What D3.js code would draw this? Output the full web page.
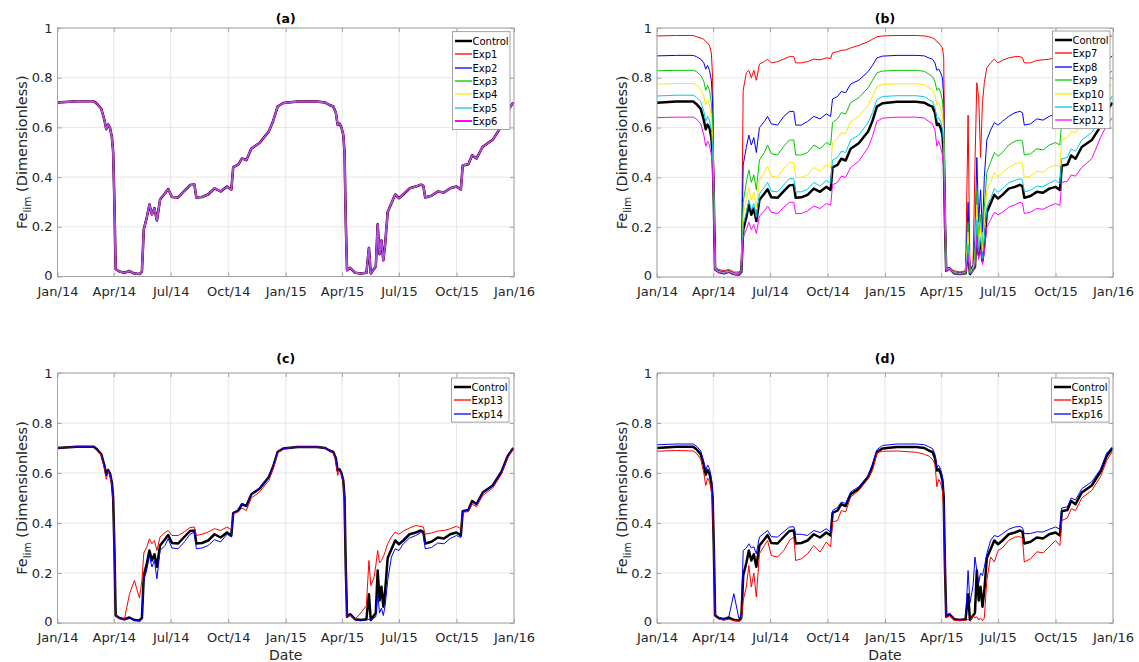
<!DOCTYPE html>
<html>
<head>
<meta charset="utf-8">
<script src="https://cdn.jsdelivr.net/npm/d3@7"></script>
<style>
  body { margin: 0; background: #fff; }
  text { font-family: "DejaVu Sans", sans-serif; }
</style>
</head>
<body>
<svg width="1139" height="662"></svg>
<script>
// sample dates, shared by every series
const dates = [
  "2014-01-01","2014-02-01","2014-02-28","2014-03-05","2014-03-12","2014-03-17","2014-03-20","2014-03-23","2014-03-26","2014-03-29",
  "2014-03-31","2014-04-02","2014-04-04","2014-04-10","2014-04-18","2014-04-26","2014-05-04","2014-05-12","2014-05-16","2014-05-19",
  "2014-05-24","2014-05-28","2014-06-01","2014-06-05","2014-06-09","2014-06-14","2014-06-22","2014-06-27","2014-07-03","2014-07-13",
  "2014-07-23","2014-08-01","2014-08-08","2014-08-11","2014-08-20","2014-08-30","2014-09-09","2014-09-19","2014-09-29","2014-10-06",
  "2014-10-09","2014-10-17","2014-10-23","2014-10-30","2014-11-07","2014-11-20","2014-12-05","2014-12-12","2014-12-19","2014-12-28",
  "2015-01-20","2015-02-20","2015-03-05","2015-03-12","2015-03-18","2015-03-22","2015-03-25","2015-03-28","2015-03-31","2015-04-03",
  "2015-04-05","2015-04-07","2015-04-09","2015-04-14","2015-04-22","2015-05-01","2015-05-10","2015-05-14","2015-05-17","2015-05-22",
  "2015-05-25","2015-05-28","2015-05-31","2015-06-03","2015-06-06","2015-06-09","2015-06-13","2015-06-19","2015-06-25","2015-07-01",
  "2015-07-08","2015-07-18","2015-07-28","2015-08-05","2015-08-09","2015-08-12","2015-08-22","2015-09-01","2015-09-11","2015-09-21",
  "2015-10-01","2015-10-08","2015-10-11","2015-10-20","2015-10-26","2015-11-02","2015-11-12","2015-11-28","2015-12-12","2015-12-22",
  "2015-12-31"
];

const control = [
  0.700,0.705,0.705,0.695,0.675,0.630,0.593,0.612,0.598,0.560,
  0.500,0.300,0.030,0.020,0.015,0.022,0.012,0.010,0.020,0.190,
  0.240,0.290,0.250,0.275,0.225,0.310,0.335,0.352,0.320,0.318,
  0.345,0.368,0.370,0.318,0.320,0.330,0.355,0.342,0.362,0.350,
  0.440,0.450,0.475,0.468,0.515,0.537,0.584,0.627,0.684,0.698,
  0.704,0.704,0.700,0.690,0.684,0.660,0.610,0.615,0.600,0.570,
  0.500,0.220,0.025,0.035,0.015,0.012,0.015,0.115,0.012,0.030,
  0.040,0.210,0.090,0.145,0.065,0.130,0.260,0.295,0.330,0.315,
  0.330,0.355,0.362,0.370,0.365,0.318,0.325,0.342,0.338,0.355,
  0.362,0.350,0.447,0.452,0.488,0.475,0.522,0.550,0.605,0.668,
  0.700
];

// panel (a): Exp1-Exp6 lie on top of the control curve in the picture
const exp1 = control, exp2 = control, exp3 = control, exp4 = control, exp5 = control, exp6 = control;

const exp7 = [
  0.968,0.970,0.970,0.965,0.960,0.955,0.945,0.940,0.930,0.900,
  0.800,0.400,0.040,0.030,0.025,0.030,0.020,0.020,0.030,0.750,
  0.820,0.830,0.800,0.830,0.790,0.855,0.865,0.875,0.860,0.865,
  0.875,0.885,0.885,0.860,0.860,0.865,0.875,0.872,0.880,0.878,
  0.900,0.905,0.910,0.912,0.920,0.930,0.945,0.955,0.965,0.968,
  0.970,0.970,0.968,0.965,0.960,0.955,0.945,0.940,0.930,0.920,
  0.880,0.360,0.040,0.035,0.025,0.020,0.025,0.650,0.030,0.050,
  0.450,0.780,0.720,0.480,0.700,0.780,0.840,0.860,0.875,0.860,
  0.870,0.880,0.885,0.885,0.880,0.860,0.860,0.870,0.872,0.875,
  0.880,0.875,0.905,0.910,0.920,0.920,0.930,0.940,0.955,0.965,
  0.968
];
const exp8 = [
  0.888,0.890,0.890,0.885,0.875,0.860,0.835,0.850,0.830,0.790,
  0.700,0.350,0.035,0.025,0.020,0.025,0.015,0.015,0.030,0.450,
  0.520,0.570,0.530,0.560,0.500,0.600,0.625,0.645,0.615,0.610,
  0.645,0.665,0.665,0.610,0.610,0.625,0.645,0.635,0.655,0.645,
  0.715,0.725,0.745,0.740,0.775,0.790,0.825,0.850,0.880,0.887,
  0.890,0.890,0.888,0.880,0.875,0.860,0.830,0.835,0.820,0.800,
  0.720,0.300,0.030,0.035,0.020,0.015,0.020,0.300,0.020,0.050,
  0.150,0.480,0.220,0.350,0.180,0.400,0.550,0.590,0.620,0.610,
  0.625,0.645,0.660,0.665,0.660,0.610,0.615,0.635,0.630,0.645,
  0.655,0.645,0.720,0.725,0.750,0.745,0.780,0.800,0.840,0.870,
  0.888
];
const exp9 = [
  0.828,0.830,0.830,0.825,0.810,0.785,0.750,0.770,0.750,0.700,
  0.620,0.320,0.033,0.022,0.018,0.024,0.014,0.012,0.025,0.300,
  0.380,0.430,0.380,0.410,0.350,0.470,0.500,0.530,0.495,0.490,
  0.525,0.550,0.550,0.490,0.490,0.500,0.530,0.515,0.540,0.530,
  0.620,0.635,0.660,0.655,0.700,0.720,0.760,0.790,0.820,0.827,
  0.830,0.830,0.826,0.815,0.805,0.785,0.750,0.760,0.740,0.710,
  0.640,0.270,0.030,0.033,0.018,0.014,0.018,0.220,0.020,0.040,
  0.100,0.350,0.150,0.250,0.120,0.280,0.420,0.460,0.500,0.485,
  0.500,0.530,0.545,0.550,0.545,0.490,0.495,0.515,0.510,0.530,
  0.540,0.530,0.630,0.640,0.665,0.660,0.700,0.730,0.770,0.810,
  0.828
];
const exp10 = [
  0.775,0.777,0.777,0.772,0.755,0.725,0.690,0.710,0.690,0.640,
  0.560,0.300,0.032,0.021,0.017,0.023,0.013,0.011,0.022,0.250,
  0.310,0.360,0.310,0.340,0.280,0.390,0.420,0.445,0.405,0.400,
  0.435,0.460,0.460,0.400,0.400,0.410,0.440,0.425,0.450,0.440,
  0.540,0.555,0.580,0.575,0.625,0.645,0.690,0.725,0.765,0.773,
  0.776,0.776,0.772,0.760,0.752,0.730,0.690,0.700,0.680,0.650,
  0.580,0.250,0.030,0.034,0.017,0.013,0.017,0.180,0.018,0.035,
  0.070,0.290,0.120,0.200,0.100,0.220,0.350,0.380,0.420,0.400,
  0.420,0.440,0.455,0.460,0.455,0.400,0.405,0.425,0.420,0.440,
  0.450,0.440,0.550,0.560,0.585,0.580,0.625,0.660,0.710,0.750,
  0.775
];
const exp11 = [
  0.727,0.730,0.730,0.722,0.705,0.665,0.625,0.645,0.630,0.590,
  0.520,0.300,0.031,0.021,0.016,0.022,0.012,0.011,0.021,0.210,
  0.260,0.310,0.270,0.295,0.240,0.335,0.360,0.380,0.345,0.342,
  0.370,0.395,0.395,0.342,0.342,0.352,0.380,0.365,0.388,0.375,
  0.470,0.480,0.505,0.500,0.550,0.570,0.620,0.660,0.712,0.725,
  0.728,0.728,0.724,0.712,0.705,0.680,0.635,0.640,0.625,0.595,
  0.530,0.230,0.027,0.034,0.016,0.012,0.016,0.130,0.015,0.032,
  0.050,0.230,0.100,0.160,0.075,0.150,0.280,0.315,0.355,0.340,
  0.355,0.378,0.388,0.395,0.390,0.342,0.348,0.365,0.362,0.378,
  0.388,0.375,0.475,0.480,0.515,0.505,0.550,0.580,0.635,0.690,
  0.727
];
const exp12 = [
  0.640,0.642,0.642,0.635,0.615,0.570,0.525,0.545,0.530,0.490,
  0.420,0.250,0.028,0.018,0.014,0.020,0.011,0.010,0.018,0.160,
  0.190,0.220,0.190,0.210,0.175,0.245,0.265,0.285,0.260,0.255,
  0.280,0.300,0.300,0.255,0.255,0.265,0.285,0.275,0.295,0.288,
  0.370,0.380,0.405,0.400,0.440,0.465,0.520,0.565,0.625,0.638,
  0.642,0.642,0.638,0.625,0.615,0.590,0.525,0.545,0.520,0.490,
  0.430,0.190,0.022,0.030,0.014,0.011,0.014,0.090,0.012,0.025,
  0.035,0.160,0.070,0.110,0.050,0.100,0.200,0.230,0.260,0.250,
  0.260,0.280,0.290,0.300,0.295,0.255,0.260,0.275,0.272,0.285,
  0.295,0.288,0.380,0.385,0.410,0.405,0.440,0.475,0.560,0.610,
  0.640
];
const exp13 = [
  0.700,0.705,0.705,0.692,0.670,0.620,0.575,0.605,0.590,0.550,
  0.490,0.290,0.030,0.020,0.015,0.115,0.170,0.100,0.170,0.280,
  0.305,0.337,0.317,0.330,0.290,0.344,0.362,0.370,0.350,0.350,
  0.365,0.382,0.384,0.350,0.355,0.364,0.377,0.370,0.384,0.373,
  0.437,0.444,0.460,0.450,0.500,0.524,0.570,0.617,0.680,0.698,
  0.704,0.704,0.700,0.690,0.680,0.650,0.590,0.610,0.595,0.565,
  0.490,0.210,0.025,0.030,0.015,0.040,0.070,0.250,0.150,0.180,
  0.230,0.290,0.240,0.250,0.265,0.285,0.317,0.344,0.364,0.355,
  0.368,0.380,0.390,0.386,0.384,0.355,0.360,0.368,0.370,0.377,
  0.387,0.377,0.444,0.445,0.475,0.465,0.510,0.540,0.595,0.660,
  0.700
];
const exp14 = [
  0.700,0.705,0.705,0.695,0.675,0.630,0.590,0.612,0.598,0.560,
  0.500,0.300,0.030,0.020,0.012,0.020,0.010,0.010,0.015,0.170,
  0.215,0.270,0.224,0.250,0.177,0.290,0.310,0.337,0.300,0.297,
  0.325,0.355,0.364,0.297,0.300,0.310,0.333,0.324,0.355,0.344,
  0.440,0.450,0.475,0.468,0.517,0.538,0.585,0.628,0.685,0.698,
  0.704,0.704,0.700,0.690,0.684,0.660,0.610,0.615,0.600,0.570,
  0.500,0.220,0.025,0.035,0.012,0.012,0.012,0.015,0.010,0.020,
  0.025,0.120,0.040,0.060,0.030,0.070,0.170,0.264,0.297,0.290,
  0.317,0.340,0.350,0.362,0.358,0.297,0.302,0.320,0.317,0.338,
  0.350,0.342,0.447,0.452,0.488,0.475,0.522,0.550,0.605,0.668,
  0.700
];
const exp15 = [
  0.687,0.690,0.688,0.680,0.655,0.600,0.550,0.580,0.565,0.530,
  0.470,0.280,0.025,0.015,0.012,0.015,0.010,0.008,0.012,0.090,
  0.144,0.230,0.144,0.200,0.104,0.277,0.310,0.330,0.270,0.264,
  0.290,0.330,0.344,0.250,0.257,0.277,0.310,0.284,0.324,0.304,
  0.404,0.410,0.450,0.444,0.504,0.530,0.577,0.610,0.680,0.687,
  0.688,0.683,0.675,0.668,0.655,0.635,0.545,0.575,0.560,0.530,
  0.460,0.200,0.020,0.030,0.010,0.010,0.010,0.015,0.010,0.030,
  0.020,0.025,0.012,0.020,0.010,0.020,0.170,0.264,0.244,0.290,
  0.300,0.330,0.344,0.345,0.340,0.244,0.257,0.285,0.280,0.305,
  0.330,0.310,0.410,0.420,0.457,0.450,0.500,0.530,0.585,0.650,
  0.687
];
const exp16 = [
  0.713,0.716,0.716,0.708,0.688,0.645,0.610,0.632,0.618,0.580,
  0.520,0.310,0.032,0.022,0.015,0.025,0.117,0.020,0.030,0.290,
  0.300,0.317,0.300,0.305,0.277,0.344,0.360,0.370,0.345,0.344,
  0.365,0.384,0.385,0.355,0.355,0.350,0.370,0.362,0.377,0.364,
  0.450,0.462,0.484,0.478,0.524,0.545,0.590,0.635,0.693,0.710,
  0.716,0.716,0.713,0.705,0.698,0.675,0.625,0.630,0.615,0.585,
  0.515,0.230,0.028,0.038,0.015,0.012,0.015,0.210,0.080,0.150,
  0.264,0.210,0.160,0.200,0.190,0.224,0.277,0.330,0.350,0.345,
  0.357,0.375,0.384,0.386,0.382,0.357,0.358,0.365,0.364,0.375,
  0.384,0.375,0.460,0.465,0.500,0.492,0.537,0.565,0.615,0.680,
  0.704
];

const yTicks = [0, 0.2, 0.4, 0.6, 0.8, 1];
const panelTitles = ["(a)", "(b)", "(c)", "(d)"];

// colours of the series
const cBlack = "#000000", cRed = "#ff0000", cBlue = "#0000ff", cGreen = "#00c800",
      cYellow = "#ffe800", cCyan = "#00c8f0", cMagenta = "#ff00ff";

const panels = [
  { title: panelTitles[0], left: 57.5, right: 514, top: 28, bottom: 276.5, titleY: 23, date: false,
    legendTop: 31.7, legendRight: 510,
    series: [["Control", control, cBlack, 2.5], ["Exp1", exp1, cRed, 1], ["Exp2", exp2, cBlue, 1],
             ["Exp3", exp3, cGreen, 1], ["Exp4", exp4, cYellow, 1], ["Exp5", exp5, cCyan, 1],
             ["Exp6", exp6, cMagenta, 2]] },
  { title: panelTitles[1], left: 657, right: 1113, top: 28, bottom: 277, titleY: 23, date: false,
    legendTop: 31, legendRight: 1110,
    series: [["Control", control, cBlack, 2.5], ["Exp7", exp7, cRed, 1], ["Exp8", exp8, cBlue, 1],
             ["Exp9", exp9, cGreen, 1], ["Exp10", exp10, cYellow, 1], ["Exp11", exp11, cCyan, 1],
             ["Exp12", exp12, cMagenta, 1]] },
  { title: panelTitles[2], left: 57.5, right: 514, top: 373, bottom: 623, titleY: 363, date: true,
    legendTop: 378, legendRight: 509,
    series: [["Control", control, cBlack, 2.5], ["Exp13", exp13, cRed, 1], ["Exp14", exp14, cBlue, 1]] },
  { title: panelTitles[3], left: 657, right: 1113, top: 373, bottom: 623, titleY: 363, date: true,
    legendTop: 378, legendRight: 1109,
    series: [["Control", control, cBlack, 2.5], ["Exp15", exp15, cRed, 1], ["Exp16", exp16, cBlue, 1]] }
];

const svg = d3.select("svg");
const when = dates.map(d3.timeParse("%Y-%m-%d"));
const start = new Date(2014, 0, 1), end = new Date(2016, 0, 1);
const xTicks = d3.timeMonth.every(3).range(start, new Date(2016, 0, 2));
const axisGray = "#a3a3a3", gridGray = "#e6e6e6", textGray = "#262626";

panels.forEach(p => {
  const x = d3.scaleTime().domain([start, end]).range([p.left, p.right]);
  const y = d3.scaleLinear().domain([0, 1]).range([p.bottom, p.top]);
  const g = svg.append("g");

  // grid
  g.selectAll(".gx").data(xTicks).join("line")
    .attr("x1", d => x(d)).attr("x2", d => x(d))
    .attr("y1", p.top).attr("y2", p.bottom)
    .attr("stroke", gridGray).attr("stroke-width", 1);
  g.selectAll(".gy").data(yTicks).join("line")
    .attr("x1", p.left).attr("x2", p.right)
    .attr("y1", d => y(d)).attr("y2", d => y(d))
    .attr("stroke", gridGray).attr("stroke-width", 1);

  // axes, ticks point inward like MATLAB
  const bottomAxis = g.append("g").attr("transform", `translate(0,${p.bottom})`)
    .call(d3.axisBottom(x).tickValues(xTicks).tickFormat(d3.timeFormat("%b/%y"))
      .tickSizeInner(-4).tickSizeOuter(0).tickPadding(10));
  const leftAxis = g.append("g").attr("transform", `translate(${p.left},0)`)
    .call(d3.axisLeft(y).tickValues(yTicks).tickFormat(d3.format("~g"))
      .tickSizeInner(-4).tickSizeOuter(0).tickPadding(5));
  const topAxis = g.append("g").attr("transform", `translate(0,${p.top})`)
    .call(d3.axisTop(x).tickValues(xTicks).tickFormat("").tickSizeInner(-4).tickSizeOuter(0));
  const rightAxis = g.append("g").attr("transform", `translate(${p.right},0)`)
    .call(d3.axisRight(y).tickValues(yTicks).tickFormat("").tickSizeInner(-4).tickSizeOuter(0));
  [bottomAxis, leftAxis, topAxis, rightAxis].forEach(a => {
    a.select(".domain").remove();
    a.selectAll(".tick line").attr("stroke", axisGray);
    a.selectAll("text").attr("fill", textGray).style("font-size", "13px")
      .style("font-family", '"DejaVu Sans", sans-serif');
  });
  // nudge the "0" label up a touch so it clears the first date label
  leftAxis.selectAll(".tick").filter(d => d === 0).select("text").attr("dy", "0.2em");

  // series
  const line = d3.line().x((d, i) => x(when[i])).y(d => y(d)).curve(d3.curveLinear);
  p.series.forEach(s => {
    const onTop = p.title === "(a)" && s[0] === "Exp6";
    g.append("path").datum(s[1])
      .attr("d", line)
      .attr("fill", "none")
      .attr("stroke", s[2])
      .attr("stroke-width", onTop ? 2.2 : s[3])
      .attr("stroke-linejoin", "round")
      .attr("opacity", onTop ? 0.58 : 1);
  });

  // frame
  g.append("rect").attr("x", p.left).attr("y", p.top)
    .attr("width", p.right - p.left).attr("height", p.bottom - p.top)
    .attr("fill", "none").attr("stroke", axisGray).attr("stroke-width", 1);

  // title
  g.append("text").attr("x", (p.left + p.right) / 2).attr("y", p.titleY)
    .attr("text-anchor", "middle").attr("font-weight", "bold").attr("font-size", 12.5)
    .attr("fill", "#000").text(p.title);

  // y label
  const yl = g.append("text")
    .attr("transform", `translate(${p.left - 30.5},${(p.top + p.bottom) / 2}) rotate(-90)`)
    .attr("text-anchor", "middle").attr("font-size", 14.5).attr("fill", textGray);
  yl.append("tspan").text("Fe");
  yl.append("tspan").text("lim").attr("font-size", 10.5).attr("dy", 4);
  yl.append("tspan").text(" (Dimensionless)").attr("dy", -4);

  if (p.date) {
    g.append("text").attr("x", (p.left + p.right) / 2).attr("y", 660)
      .attr("text-anchor", "middle").attr("font-size", 14).attr("fill", textGray).text("Date");
  }

  // legend
  const rowH = 13.4, lw = 57.5;
  const lh = 17.3 + (p.series.length - 1) * rowH;
  const lx = p.legendRight - lw, ly = p.legendTop;
  const lg = g.append("g");
  lg.append("rect").attr("x", lx).attr("y", ly).attr("width", lw).attr("height", lh)
    .attr("fill", "#fff").attr("stroke", "#8c8c8c").attr("stroke-width", 0.8);
  p.series.forEach((s, i) => {
    const cy = Math.round(ly + 9 + i * rowH);
    lg.append("line").attr("x1", lx + 2.5).attr("x2", lx + 19.5).attr("y1", cy).attr("y2", cy)
      .attr("stroke", s[2]).attr("stroke-width", Math.max(s[3], 1.3));
    lg.append("text").attr("x", lx + 20).attr("y", cy + 3.6)
      .attr("font-size", 10).attr("fill", "#000").text(s[0]);
  });
});
</script>
</body>
</html>
